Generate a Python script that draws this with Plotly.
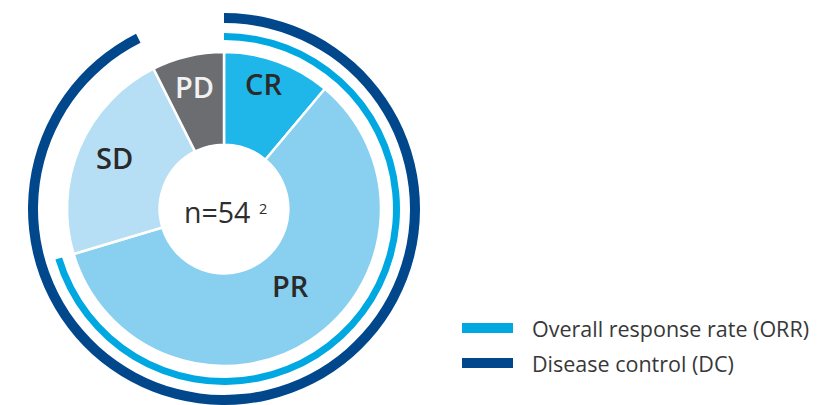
import plotly.graph_objects as go

# ---- data ----
categories = ["CR", "PR", "SD", "PD"]
counts = [6, 32, 12, 4]
total_n = 54
footnote = "2"
ring_names = ["Overall response rate (ORR)", "Disease control (DC)"]
ring_members = [["CR", "PR"], ["CR", "PR", "SD"]]

# ---- styles / positions ----
W, H = 835, 405
CX, CY = 224, 209          # pie centre (px)
R_PIE, HOLE = 157, 0.41
slice_colors = ["#1FB7EA", "#88CFF0", "#B6DEF4", "#6C6D71"]
label_colors = ["#2A2A2A", "#2A2A2A", "#2A2A2A", "#F2F2F2"]
label_px = {"CR": (263, 84), "PR": (290, 285), "SD": (114, 157), "PD": (194, 86)}
ring_colors = ["#00A8E1", "#00478C"]
ring_radii = [(169, 176), (186, 196)]
FONT = "Open Sans"


def dom(r):
    return dict(x=[(CX - r) / W, (CX + r) / W], y=[1 - (CY + r) / H, 1 - (CY - r) / H])


fig = go.Figure()
fig.add_trace(go.Pie(
    labels=categories, values=counts, sort=False, direction="clockwise", rotation=0,
    hole=HOLE, domain=dom(R_PIE), textinfo="none", hoverinfo="label+value",
    marker=dict(colors=slice_colors, line=dict(color="white", width=2.5)),
    showlegend=False,
))

for name, members, col, (ri, ro) in zip(ring_names, ring_members, ring_colors, ring_radii):
    v = sum(c for k, c in zip(categories, counts) if k in members)
    fig.add_trace(go.Pie(
        labels=[name, "rest"], values=[v, total_n - v], sort=False, direction="clockwise",
        rotation=0, hole=ri / ro, domain=dom(ro), textinfo="none", hoverinfo="skip",
        marker=dict(colors=[col, "rgba(0,0,0,0)"], line=dict(width=0)),
        showlegend=False,
    ))

annotations = []
for cat, tc in zip(categories, label_colors):
    px, py = label_px[cat]
    annotations.append(dict(
        x=px / W, y=1 - py / H, xref="paper", yref="paper", text=cat,
        showarrow=False, font=dict(family=FONT, size=29, color=tc, weight=600),
        xanchor="center", yanchor="middle",
    ))

annotations.append(dict(
    x=252 / W, y=1 - 212 / H, xref="paper", yref="paper",
    text=f"n={total_n}", showarrow=False,
    font=dict(family=FONT, size=28.5, color="#2E2E2E"), xanchor="right", yanchor="middle",
))
annotations.append(dict(
    x=263 / W, y=1 - 208 / H, xref="paper", yref="paper",
    text=footnote, showarrow=False,
    font=dict(family=FONT, size=14.5, color="#2E2E2E"), xanchor="center", yanchor="middle",
))

shapes = []
leg_y = [328, 363]
for name, col, ly in zip(ring_names, ring_colors, leg_y):
    shapes.append(dict(type="rect", xref="paper", yref="paper",
                       x0=462 / W, x1=513 / W, y0=1 - (ly + 5) / H, y1=1 - (ly - 5) / H,
                       fillcolor=col, line=dict(width=0)))
    annotations.append(dict(
        x=530 / W, y=1 - ly / H, xref="paper", yref="paper", text=name, showarrow=False,
        font=dict(family=FONT, size=21.5, color="#383838"), xanchor="left", yanchor="middle",
    ))

fig.update_layout(
    width=W, height=H, margin=dict(l=0, r=0, t=0, b=0),
    paper_bgcolor="white", plot_bgcolor="white",
    annotations=annotations, shapes=shapes, showlegend=False,
)

fig.write_html("out.html")
